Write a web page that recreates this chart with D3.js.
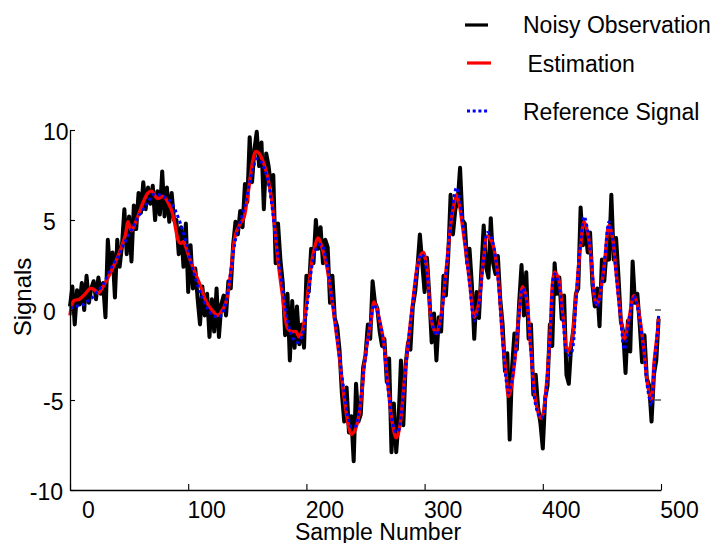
<!DOCTYPE html>
<html><head><meta charset="utf-8">
<script src="https://cdn.jsdelivr.net/npm/d3@7"></script>
<style>
body{margin:0;background:#fff}
svg{display:block}
text{font-family:"Liberation Sans",Arial,Helvetica,sans-serif;fill:#000}
</style>
</head><body>
<svg id="c" width="718" height="543"></svg>
<script>
// ---------- data ----------
const noisySamples = d3.range(0, 500, 2);
const noisyValues = [
 0.2, 1.3, -0.8, 1.1, 0.3,
 1.5, 0.0, 1.9, 0.4, 1.2,
 1.6, 0.6, 1.8, 0.9, 1.5,
 -0.4, 3.9, 2.1, 3.2, 0.7,
 3.9, 2.4, 3.6, 5.6, 3.1,
 5.2, 2.7, 5.8, 4.5, 6.5,
 5.4, 7.1, 5.6, 6.8, 5.9,
 6.9, 5.0, 6.6, 5.3, 7.7,
 5.2, 6.8, 4.9, 6.5, 5.0,
 5.0, 3.1, 4.6, 2.4, 4.8,
 1.0, 3.6, 1.2, 2.3, 0.6,
 -0.8, 1.3, -0.3, 0.9, -1.5,
 0.6, -1.2, 1.2, -1.5, 0.3,
 0.8, -0.3, 1.6, 1.2, 3.6,
 4.9, 4.2, 5.5, 4.6, 7.0,
 6.0, 9.6, 7.1, 8.9, 9.9,
 8.0, 9.3, 5.6, 8.7, 8.0,
 6.9, 7.5, 2.6, 4.8, 2.8,
 1.5, -1.4, 0.9, -2.8, 0.5,
 -2.1, 0.2, -1.9, -0.8, -2.1,
 1.9, 1.0, 3.4, 2.6, 5.0,
 3.4, 4.6, 2.6, 3.9, 3.5,
 0.4, 1.9, -0.45, -0.9, -2.2,
 -4.6, -6.2, -4.3, -6.8, -5.9,
 -8.4, -4.1, -6.2, -5.8, -3.2,
 -2.5, -0.8, -1.6, 1.6, 0.4,
 0.1, -1.2, -2.0, -1.6, -4.0,
 -2.7, -7.9, -5.2, -7.9, -6.1,
 -2.8, -6.4, -3.0, -1.8, -2.2,
 0.2, 1.0, 2.4, 4.2, 2.6,
 1.0, 2.9, 0.8, -1.8, -0.2,
 -2.8, -0.4, -1.2, 1.9, 0.8,
 3.0, 6.4, 4.2, 5.6, 6.0,
 7.9, 5.0, 4.8, 2.6, 3.4,
 1.4, -1.6, 1.0, -0.45, 2.2,
 4.7, 2.4, 1.8, 5.1, 2.6,
 2.0, 3.0, 0.6, -0.8, -3.4,
 -2.4, -7.2, -3.2, -1.3, -2.2,
 0.4, 2.5, -0.3, 2.1, -1.6,
 -0.8, -4.7, -3.6, -5.4, -6.3,
 -7.7, -4.9, -4.2, -0.8, -2.0,
 2.6, 0.9, 1.8, -0.5, 0.8,
 -3.6, -4.1, -2.0, -1.0, 0.9,
 1.2, 5.7, 3.6, 4.6, 3.2,
 4.3, 1.4, 0.2, 1.2, -0.9,
 2.8, 1.6, 3.4, 2.8, 6.4,
 2.8, 4.0, 1.9, -0.6, -1.2,
 -3.5, -0.6, -2.3, 2.7, 0.4,
 0.9, -0.8, -2.9, -1.4, -3.8,
 -4.2, -6.2, -3.6, -2.8, -0.5
];

const estSamples = [0,3,8,13,17,20,24,28,33,38,43,47,49,52,55,58,62,66,69,74,79,85,88,90,92,94,96,98,101,105,110,115,120,125,128,132,136,140,144,147,150,153,155,157,160,163,166,170,173,176,180,184,187,191,194,196,198,202,206,210,213,217,220,223,228,232,235,238,241,244,247,249,252,255,257,259,262,265,269,273,276,278,280,283,286,290,294,297,299,302,305,308,310,313,315,318,322,325,327,329,333,338,342,344,346,350,353,356,358,362,366,369,371,373,376,380,383,386,390,394,398,400,403,406,410,413,417,421,424,428,432,435,438,441,444,446,448,452,456,459,462,466,469,473,477,480,485,489,492,494,497,498];
const estValues  = [-0.3,0.5,0.6,0.9,1.2,1.15,0.95,1.3,1.9,2.6,3.4,4.2,4.9,4.4,4.8,5.3,6.0,6.5,6.6,6.2,6.3,5.7,5.0,4.3,3.8,3.7,3.8,3.5,2.9,2.2,1.4,0.5,0.0,-0.3,-0.1,0.45,2.1,4.2,4.8,5.1,6.2,7.6,8.4,8.8,8.7,8.3,7.7,6.4,4.7,2.7,0.7,-1.0,-1.2,-1.2,-1.5,-1.3,-0.7,1.4,3.2,4.0,3.5,2.5,1.3,-0.1,-2.7,-4.9,-6.2,-6.9,-6.7,-6.0,-4.5,-3.0,-1.6,-0.45,0.45,0.2,-0.6,-1.6,-4.2,-6.4,-7.1,-6.8,-6.0,-3.8,-1.9,0.45,2.5,3.1,3.2,2.3,-0.3,-1.1,-1.3,-0.6,0.2,2.1,4.7,5.9,6.4,6.0,4.2,1.6,-0.4,-0.1,0.45,2.9,4.1,3.9,3.6,1.9,-1.6,-3.6,-4.8,-4.4,-3.0,-0.1,1.3,0.7,-2.3,-5.1,-6.0,-5.8,-4.2,-1.5,2.1,1.8,-0.3,-2.3,-1.9,0.7,3.6,4.9,4.3,2.8,0.6,0.3,0.7,2.5,4.7,4.0,2.1,-0.45,-1.6,-0.45,0.8,0.3,-1.9,-4.3,-5.0,-3.0,-1.2,-0.4];

const refSamples = [0,5,11,15,19,24,28,33,37,41,45,50,54,57,61,64,67,70,75,79,84,88,90,94,98,101,105,109,113,117,121,125,128,131,134,137,140,144,148,152,155,158,161,164,167,170,173,176,180,184,187,190,193,196,199,202,206,210,213,217,220,223,228,232,235,238,241,244,247,249,252,255,257,259,262,265,269,273,276,278,280,283,286,290,294,297,299,302,305,308,310,313,315,318,322,325,327,329,333,338,342,344,346,350,353,356,358,362,366,369,371,373,376,380,383,386,390,394,398,400,403,406,410,413,417,421,424,428,432,435,438,441,444,446,448,452,456,459,462,466,469,473,477,480,485,489,492,494,497,498];
const refValues  = [0.1,0.2,0.3,0.5,0.7,1.1,1.4,2.1,2.6,3.0,3.6,4.2,4.7,5.1,5.5,5.8,6.1,6.4,6.4,6.3,6.1,5.7,5.4,4.7,3.8,3.0,2.0,1.2,0.5,0.0,-0.3,-0.4,-0.3,0.2,1.2,2.6,3.9,4.9,5.8,7.1,7.9,8.4,8.3,7.9,7.3,6.2,4.6,3.0,1.2,-0.6,-1.3,-1.7,-1.8,-1.5,-0.6,1.0,2.9,3.6,3.6,2.7,1.4,0.0,-2.6,-4.6,-5.9,-6.5,-6.5,-5.8,-4.4,-3.1,-1.6,-0.3,0.3,0.1,-0.6,-1.7,-4.3,-6.3,-6.8,-6.7,-5.9,-3.9,-1.9,0.4,2.4,3.1,3.0,2.0,-0.1,-1.1,-1.4,-0.8,0.1,2.0,4.8,6.3,6.8,6.4,4.4,1.5,-0.6,-0.3,0.3,2.9,4.3,4.1,3.7,1.8,-1.7,-3.9,-4.6,-4.2,-2.9,-0.2,1.2,0.6,-2.3,-5.3,-6.0,-5.9,-4.3,-1.6,2.0,1.6,-0.5,-2.5,-2.4,0.5,3.8,5.2,4.4,2.8,0.6,0.2,0.6,2.6,4.9,4.0,2.0,-0.6,-2.2,-0.6,0.8,0.2,-2.0,-4.5,-5.3,-3.2,-1.2,-0.3];

const xTicks = [0, 100, 200, 300, 400, 500];
const yTicks = [-10, -5, 0, 5, 10];
const rightTicks = [0, -5];
const legendLabels = ["Noisy Observation", " Estimation", "Reference Signal"];
const xTitle = "Sample Number";
const yTitle = "Signals";

// ---------- drawing ----------
const svg = d3.select("#c");
const x = d3.scaleLinear().domain([0, 500]).range([70, 661]);
const y = d3.scaleLinear().domain([-10, 10]).range([490, 130]);
const FS = 23;
const fmt = d => String(d);

const zip = (s, v) => s.map((d, i) => [d, v[i]]);
const noisy = zip(noisySamples, noisyValues);
const est = zip(estSamples, estValues);
const ref = zip(refSamples, refValues);

const lineStraight = d3.line().x(d => x(d[0])).y(d => y(d[1]));
const lineSmooth = d3.line().x(d => x(d[0])).y(d => y(d[1])).curve(d3.curveCatmullRom.alpha(0.5));

svg.append("path").datum(noisy).attr("d", lineStraight)
  .attr("fill", "none").attr("stroke", "#000").attr("stroke-width", 4)
  .attr("stroke-linejoin", "round");
svg.append("path").datum(est).attr("d", lineSmooth)
  .attr("fill", "none").attr("stroke", "#ff0000").attr("stroke-width", 3.4)
  .attr("stroke-linejoin", "round");
svg.append("path").datum(ref).attr("d", lineSmooth)
  .attr("fill", "none").attr("stroke", "#0000ff").attr("stroke-width", 3)
  .attr("stroke-dasharray", "3,3");

// axes
const gy = svg.append("g").attr("transform", "translate(70,0)")
  .call(d3.axisLeft(y).tickValues(yTicks).tickSizeInner(-5).tickSizeOuter(0).tickFormat(fmt));
gy.select(".domain").attr("stroke", "#000").attr("stroke-width", 1.3);
gy.selectAll(".tick line").attr("stroke", "#000").attr("stroke-width", 1.1);
gy.selectAll(".tick text")
  .attr("font-size", FS).attr("font-family", null)
  .attr("text-anchor", d => d === -10 ? "end" : "start")
  .attr("x", d => d === -10 ? -7 : -27)
  .attr("dy", "0.41em");

const gx = svg.append("g").attr("transform", "translate(0,490)")
  .call(d3.axisBottom(x).tickValues(xTicks).tickSizeInner(-6).tickSizeOuter(0).tickFormat(fmt));
gx.select(".domain").attr("stroke", "#000").attr("stroke-width", 1.3);
gx.selectAll(".tick line").attr("stroke", "#000").attr("stroke-width", 1.1);
gx.selectAll(".tick text")
  .attr("font-size", FS).attr("font-family", null)
  .attr("x", 18).attr("y", 28).attr("dy", 0);

svg.selectAll(".rtick").data(rightTicks).enter().append("line")
  .attr("x1", x(500) - 6).attr("x2", x(500))
  .attr("y1", d => y(d)).attr("y2", d => y(d))
  .attr("stroke", "#000").attr("stroke-width", 1);

// titles
svg.append("text").attr("x", 378).attr("y", 540).attr("text-anchor", "middle")
  .attr("font-size", FS).text(xTitle);
svg.append("text").attr("transform", "translate(31,297) rotate(-90)")
  .attr("text-anchor", "middle").attr("font-size", FS + 1).text(yTitle);

// legend
const legY = [25, 63, 111];
const legText = [{x: 523, y: 33}, {x: 521, y: 72}, {x: 523, y: 120}];
const legStyle = [
  {c: "#000", w: 3.2, dash: null, x1: 465, x2: 488},
  {c: "#ff0000", w: 3.2, dash: null, x1: 467, x2: 491},
  {c: "#0000ff", w: 3, dash: "3,2.7", x1: 467, x2: 489}
];
legendLabels.forEach((lab, i) => {
  const s = legStyle[i];
  svg.append("line").attr("x1", s.x1).attr("x2", s.x2).attr("y1", legY[i]).attr("y2", legY[i])
    .attr("stroke", s.c).attr("stroke-width", s.w).attr("stroke-dasharray", s.dash);
  svg.append("text").attr("x", legText[i].x).attr("y", legText[i].y)
    .attr("font-size", FS).attr("xml:space", "preserve").style("white-space", "pre").text(lab);
});
</script>
</body></html>
